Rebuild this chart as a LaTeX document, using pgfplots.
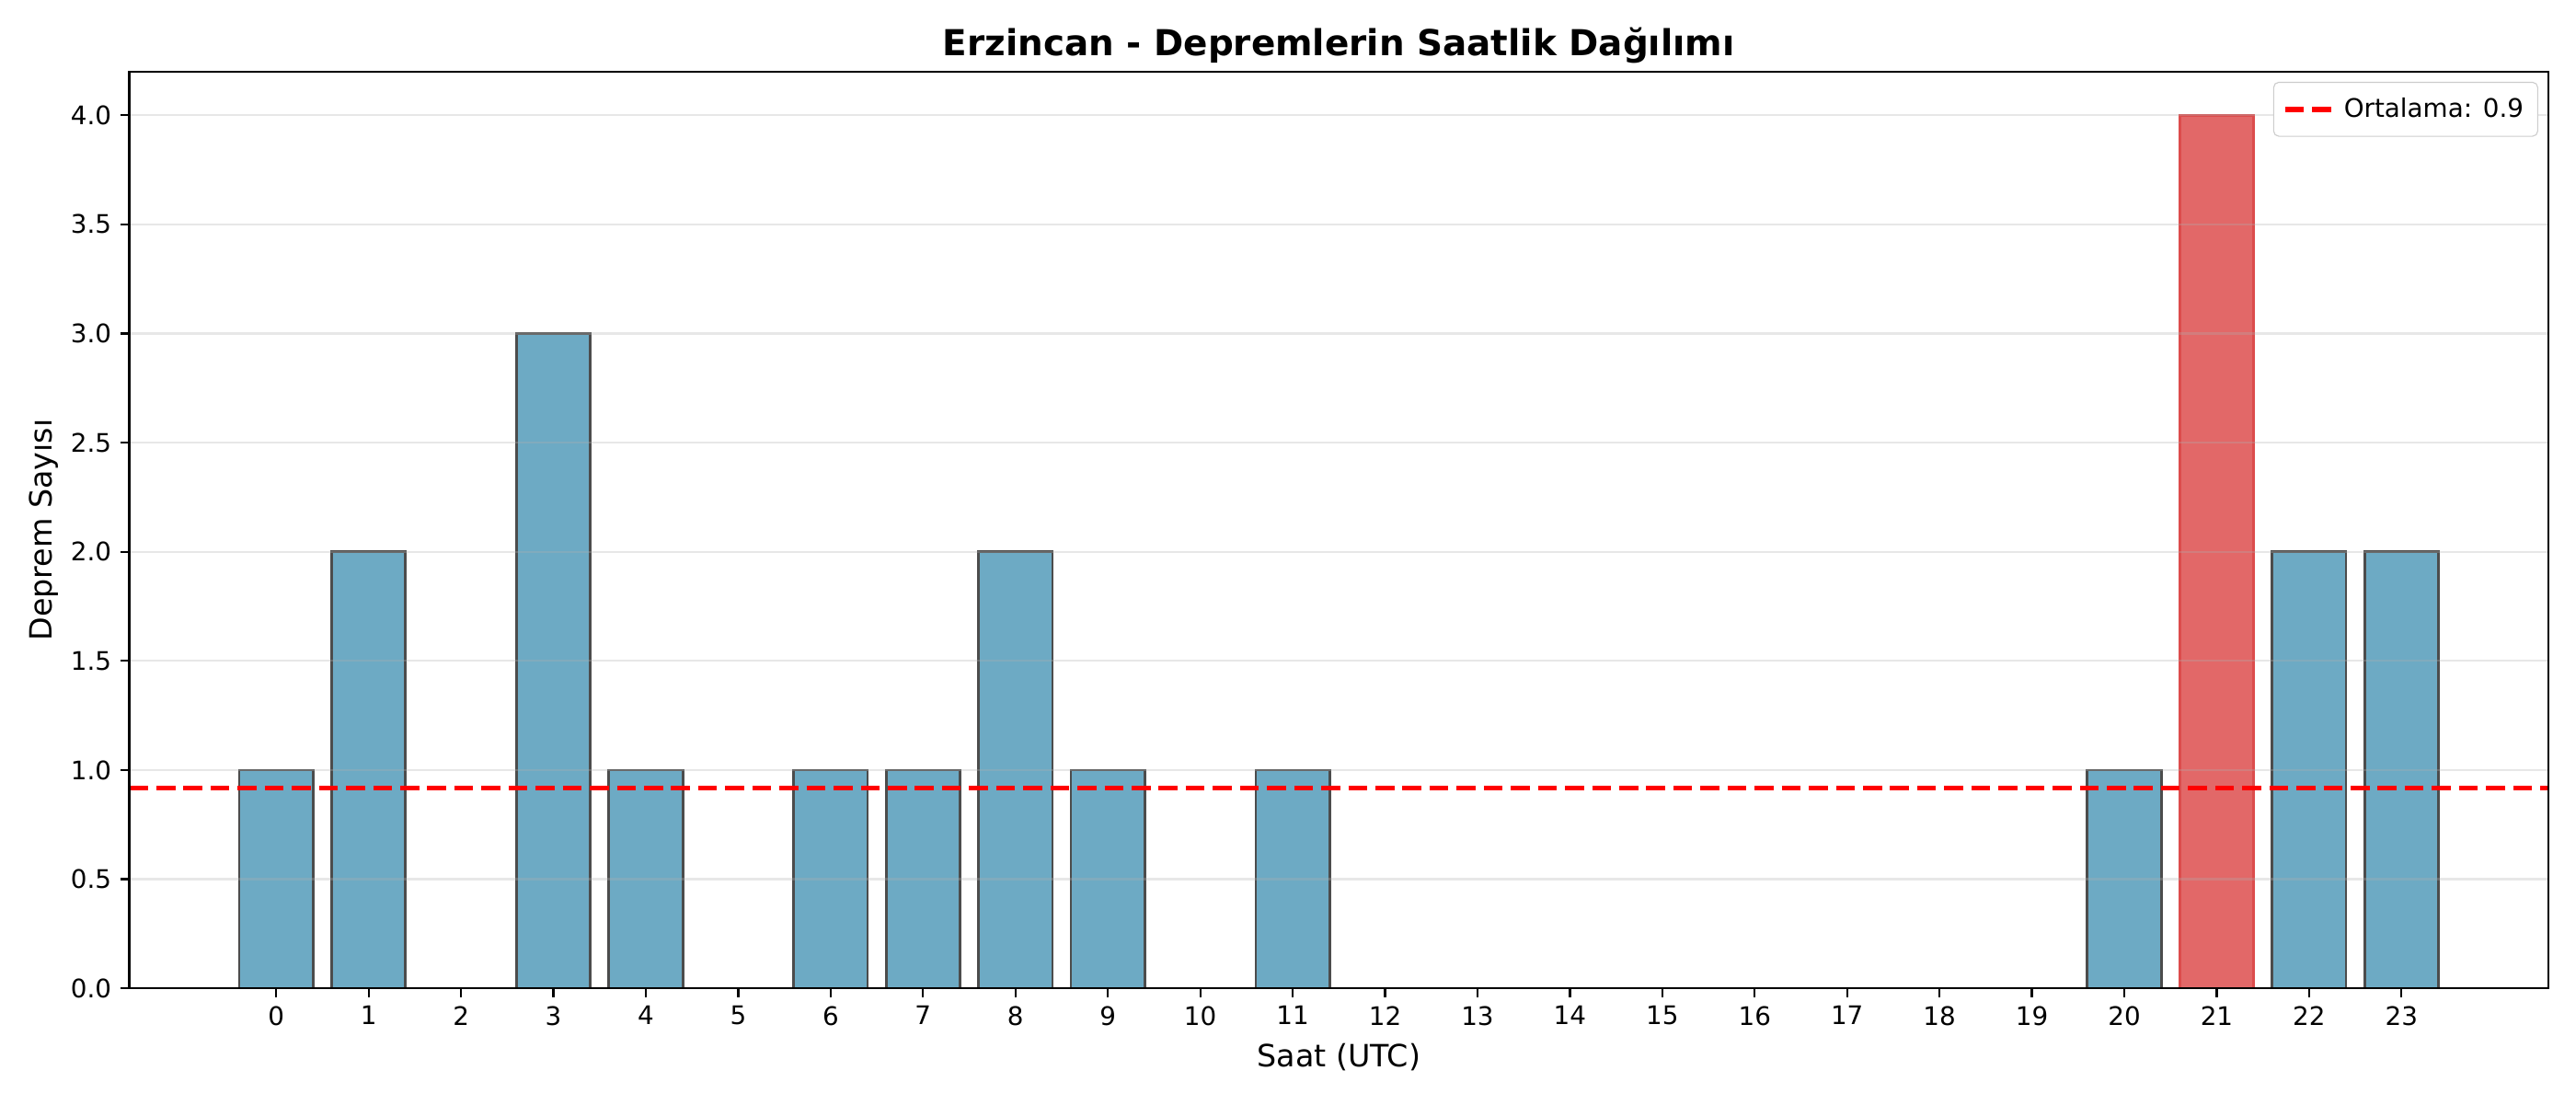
\documentclass[border=0pt]{standalone}
\usepackage{pgfplots}
\pgfplotsset{compat=1.18}
\usepackage{fontspec}
\setmainfont{DejaVu Sans}

\definecolor{barblue}{HTML}{6DAAC4}
\definecolor{barred}{HTML}{E26868}
\definecolor{edgered}{HTML}{DC4C4C}
\definecolor{meanred}{HTML}{FF0000}

\pgfplotsset{
    mplline/.style={legend image code/.code={\draw[##1] (0pt,0pt) -- (20pt,0pt);}},
}

\begin{document}
\begin{tikzpicture}
\path[use as bounding box] (-50.6pt,-45.3pt) rectangle (957.4pt,386.7pt);
\begin{axis}[
    scale only axis,
    width=946.6pt,
    height=358.7pt,
    xmin=-1.59, xmax=24.59,
    ymin=0, ymax=4.2,
    xtick={0,1,...,23},
    ytick={0,0.5,...,4.0},
    yticklabel style={/pgf/number format/.cd, fixed, fixed zerofill, precision=1},
    /pgf/number format/assume math mode=true,
    tick label style={font=\fontsize{10}{12}\selectfont},
    tick align=outside,
    tick pos=left,
    major tick length=3.5pt,
    every tick/.style={black, line width=0.8pt},
    axis line style={line width=0.8pt},
    ymajorgrids=true,
    grid style={color=black!31, opacity=0.3, line width=0.8pt},
    axis on top,
    title={\textbf{Erzincan - Depremlerin Saatlik Dağılımı}},
    title style={font=\fontsize{14}{17}\selectfont, at={(rel axis cs:0.5,1)}, anchor=center, yshift=4.2pt},
    xlabel={Saat (UTC)},
    ylabel={Deprem Sayısı},
    label style={font=\fontsize{12}{14}\selectfont},
    xlabel style={at={(rel axis cs:0.5,0)}, anchor=center, yshift=-27pt},
    ylabel style={at={(rel axis cs:0,0.5)}, anchor=center, yshift=33.5pt},
    legend style={at={(rel axis cs:1,1)}, anchor=north east, xshift=-4pt, yshift=-4pt,
        draw=black!20, rounded corners=2pt, font=\fontsize{10}{12}\selectfont,
        inner xsep=3.5pt, inner ysep=4pt},
    legend cell align=left,
]
% hourly counts (blue bars)
\addplot[ybar, bar width=0.8, bar shift=0pt, fill=barblue, draw=black!70, line width=1pt, forget plot]
coordinates {
    (0,1) (1,2) (3,3) (4,1) (6,1) (7,1) (8,2) (9,1) (11,1) (20,1) (22,2) (23,2)
};
% peak hour (red bar)
\addplot[ybar, bar width=0.8, bar shift=0pt, fill=barred, draw=edgered, line width=1pt, forget plot]
coordinates {
    (21,4)
};
% mean line
\addplot[meanred, line width=2pt, dash pattern=on 7.4pt off 3.2pt, mplline]
coordinates {
    (-1.59,0.9167) (24.59,0.9167)
};
\addlegendentry{Ortalama: 0.9}
\end{axis}
\end{tikzpicture}
\end{document}
